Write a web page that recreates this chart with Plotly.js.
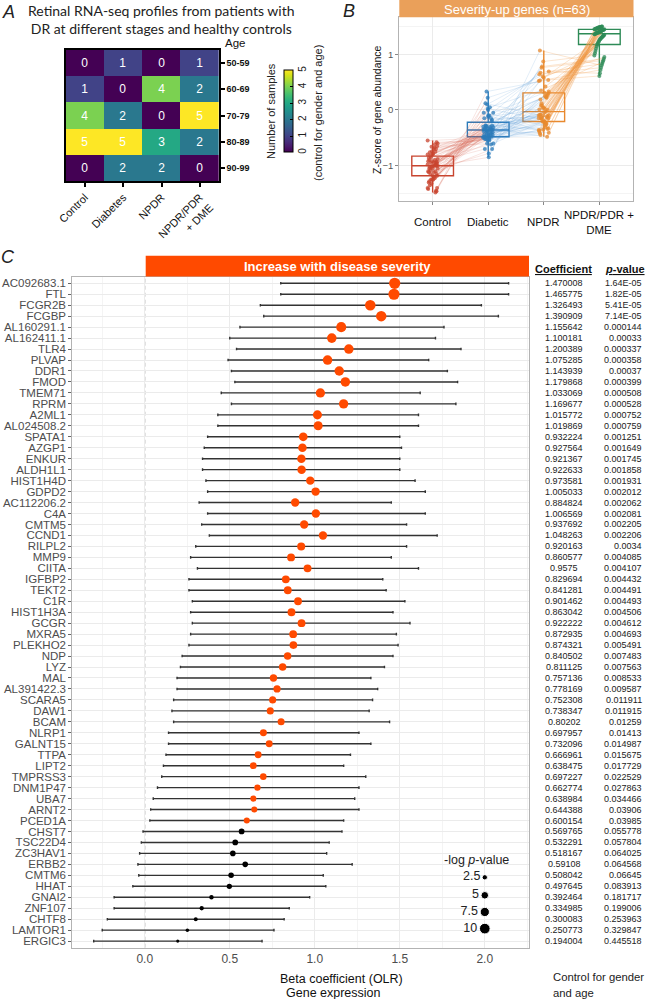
<!DOCTYPE html>
<html><head><meta charset="utf-8">
<script src="https://cdn.plot.ly/plotly-3.0.1.min.js"></script>
<style>html,body{margin:0;padding:0;background:#fff}</style>
</head><body><div id="chart" style="width:646px;height:999px"></div>
<script>
// ---------- Panel A data ----------
const ageGroups = ['50-59','60-69','70-79','80-89','90-99'];
const stages = ['Control','Diabetes','NPDR','NPDR/PDR<br>+ DME'];
const sampleCounts = [
  [0,1,0,1],
  [1,0,4,2],
  [4,2,0,5],
  [5,5,3,2],
  [0,2,2,0]
];
// ---------- Panel B data ----------
const boxGroups = ['Control','Diabetic','NPDR','NPDR/PDR +<br>DME'];
const ctrlZ = [-0.55,-0.60,-0.65,-0.58,-0.70,-0.75,-0.62,-0.68,-0.70,-0.78,-0.80,-0.74,-0.66,-0.85,-0.82,-0.76,-0.90,-0.86,-0.92,-0.80,-0.88,-0.95,-0.93,-0.98,-0.95,-0.90,-1.00,-0.94,-1.00,-1.05,-0.92,-1.02,-0.95,-1.08,-1.03,-1.05,-1.12,-1.10,-0.98,-1.05,-1.18,-1.15,-1.00,-1.10,-1.22,-1.20,-1.12,-1.25,-1.18,-1.25,-1.32,-1.25,-1.15,-1.35,-1.28,-1.30,-1.42,-1.40,-1.00,-1.40,-1.46,-1.45,-1.48];
const diabZ = [-0.50,-0.48,-0.45,-0.55,-0.38,-0.40,-0.52,-0.32,-0.52,-0.44,-0.35,-0.50,-0.60,-0.40,-0.28,-0.48,-0.62,-0.42,-0.36,-0.55,-0.45,-0.10,-0.38,-0.33,-0.30,-0.50,-0.28,-0.70,-0.35,-0.05,-0.48,-0.31,-0.45,-0.18,-0.36,-0.15,-0.33,-0.30,-0.52,-0.78,-0.12,0.02,-0.60,-0.45,-0.28,0.12,-0.48,-0.15,-0.38,-0.30,-0.05,-0.35,-0.70,-0.20,-0.42,-0.35,0.05,-0.10,-0.85,0.00,0.22,0.10,0.33];
const npdrZ = [-0.45,-0.42,-0.39,-0.36,-0.41,-0.33,-0.34,-0.48,-0.25,-0.25,-0.31,-0.22,-0.20,-0.20,-0.35,-0.21,0.08,-0.16,-0.15,-0.08,-0.09,-0.37,-0.10,-0.10,-0.15,0.00,-0.11,0.25,-0.03,-0.28,0.02,-0.04,0.04,-0.10,0.04,-0.14,0.12,0.08,0.19,0.53,0.01,-0.15,0.33,0.30,0.27,-0.13,0.22,0.23,0.42,0.25,0.31,0.58,0.87,0.60,0.78,0.76,0.35,0.67,1.07,0.64,0.52,0.69,0.54];
const dmeZ = [1.50,1.50,1.49,1.49,1.49,1.48,1.48,1.48,1.47,1.47,1.46,1.46,1.46,1.45,1.45,1.45,1.44,1.44,1.43,1.43,1.42,1.42,1.41,1.41,1.40,1.40,1.39,1.39,1.38,1.38,1.38,1.37,1.36,1.36,1.35,1.34,1.33,1.32,1.31,1.30,1.29,1.28,1.27,1.25,1.23,1.21,1.19,1.17,1.14,1.10,1.06,1.02,0.98,0.95,0.92,0.89,0.86,0.83,0.80,0.76,0.72,0.66,0.61];
// ---------- Panel C data ----------
const genes = ['AC092683.1','FTL','FCGR2B','FCGBP','AL160291.1','AL162411.1','TLR4','PLVAP','DDR1','FMOD','TMEM71','RPRM','A2ML1','AL024508.2','SPATA1','AZGP1','ENKUR','ALDH1L1','HIST1H4D','GDPD2','AC112206.2','C4A','CMTM5','CCND1','RILPL2','MMP9','CIITA','IGFBP2','TEKT2','C1R','HIST1H3A','GCGR','MXRA5','PLEKHO2','NDP','LYZ','MAL','AL391422.3','SCARA5','DAW1','BCAM','NLRP1','GALNT15','TTPA','LIPT2','TMPRSS3','DNM1P47','UBA7','ARNT2','PCED1A','CHST7','TSC22D4','ZC3HAV1','ERBB2','CMTM6','HHAT','GNAI2','ZNF107','CHTF8','LAMTOR1','ERGIC3'];
const coefficients = [1.470008,1.465775,1.326493,1.390909,1.155642,1.100181,1.200389,1.075285,1.143939,1.179868,1.033069,1.169677,1.015772,1.019869,0.932224,0.927564,0.921367,0.922633,0.973581,1.005033,0.884824,1.006569,0.937692,1.048263,0.920163,0.860577,0.9575,0.829694,0.841281,0.901462,0.863042,0.922222,0.872935,0.874321,0.840502,0.811125,0.757136,0.778169,0.752308,0.738347,0.80202,0.697957,0.732096,0.666961,0.638475,0.697227,0.662774,0.638984,0.644388,0.600154,0.569765,0.532291,0.518167,0.59108,0.508042,0.497645,0.392464,0.334985,0.300083,0.250773,0.194004];
const pValues = ['1.64E-05','1.82E-05','5.41E-05','7.14E-05','0.000144','0.00033','0.000337','0.000358','0.00037','0.000399','0.000508','0.000528','0.000752','0.000759','0.001251','0.001649','0.001745','0.001858','0.001931','0.002012','0.002062','0.002081','0.002205','0.002206','0.0034','0.004085','0.004107','0.004432','0.004491','0.004493','0.004506','0.004612','0.004693','0.005491','0.007483','0.007563','0.008533','0.009587','0.011911','0.011915','0.01259','0.01413','0.014987','0.015675','0.017729','0.022529','0.027863','0.034466','0.03906','0.03985','0.055778','0.057804','0.064025','0.064568','0.06645','0.083913','0.181717','0.199006','0.253963','0.329847','0.445518'];
const ciLower = [0.80,0.80,0.68,0.70,0.56,0.50,0.54,0.49,0.51,0.53,0.45,0.51,0.43,0.43,0.37,0.35,0.34,0.34,0.36,0.37,0.32,0.37,0.335,0.38,0.30,0.27,0.31,0.26,0.26,0.28,0.27,0.28,0.27,0.26,0.22,0.21,0.19,0.19,0.17,0.16,0.17,0.14,0.14,0.125,0.11,0.10,0.075,0.05,0.035,0.03,-0.01,-0.02,-0.03,-0.04,-0.035,-0.07,-0.18,-0.18,-0.22,-0.25,-0.30];
const ciUpper = [2.14,2.14,1.98,2.08,1.76,1.71,1.86,1.67,1.78,1.84,1.62,1.83,1.61,1.61,1.50,1.51,1.50,1.50,1.59,1.65,1.45,1.65,1.54,1.72,1.54,1.45,1.61,1.40,1.42,1.53,1.46,1.56,1.48,1.49,1.46,1.41,1.33,1.37,1.34,1.32,1.44,1.26,1.33,1.21,1.17,1.30,1.26,1.235,1.26,1.17,1.16,1.085,1.07,1.22,1.05,1.065,0.97,0.85,0.82,0.76,0.69];
const legendValues = [2.5,5,7.5,10];
const xTicksC = [0,0.5,1,1.5,2];

// ---------- helpers ----------
const W=646,H=999;
const px=v=>v/W, py=v=>1-v/H;
const FONT='Liberation Sans, Arial, sans-serif';
const sizeOf=v=>3.38*Math.sqrt(v);
const nlog=p=>-Math.log(p);

const traces=[];
// Panel A heatmap
traces.push({
  type:'heatmap', x:stages, y:ageGroups, z:sampleCounts, xaxis:'x', yaxis:'y',
  colorscale:'Viridis', zmin:0, zmax:5, texttemplate:'%{z}',
  textfont:{color:'#ffffff', size:12, family:FONT}, xgap:0, ygap:0,
  colorbar:{x:px(284), xanchor:'left', y:py(111.5), yanchor:'middle', thickness:9, thicknessmode:'pixels',
    len:82, lenmode:'pixels', outlinewidth:1, outlinecolor:'#000', ticks:'inside', ticklen:3, tickcolor:'#000',
    tickvals:[0,1,2,3,4,5], tickangle:-90, tickfont:{size:10, color:'#222', family:FONT}, xpad:0, ypad:0}
});

// Panel B
const groupColors=['#C8442F','#2B7BBA','#E8892E','#2E8B57'];
const segColors=['rgba(210,85,63,0.22)','rgba(74,144,208,0.22)','rgba(240,150,60,0.35)'];
const groupsZ=[ctrlZ,diabZ,npdrZ,dmeZ];
const jit=(i,g)=>((((i*37+g*11)%19)/18)-0.5)*0.18;
for(let g=0; g<3; g++){
  const xs=[], ys=[];
  for(let i=0;i<ctrlZ.length;i++){
    xs.push(g+jit(i,g), g+1+jit(i,g+1), null);
    ys.push(groupsZ[g][i], groupsZ[g+1][i], null);
  }
  traces.push({type:'scatter', mode:'lines', x:xs, y:ys, xaxis:'x2', yaxis:'y2',
    line:{color:segColors[g], width:0.7}, hoverinfo:'skip', showlegend:false});
}
for(let g=0; g<4; g++){
  traces.push({type:'box', x:groupsZ[g].map(()=>g), y:groupsZ[g], xaxis:'x2', yaxis:'y2',
    boxpoints:false, width:0.75, whiskerwidth:0, fillcolor:'rgba(255,255,255,0)',
    line:{color:groupColors[g], width:1.4}, showlegend:false});
}
for(let g=0; g<4; g++){
  traces.push({type:'scatter', mode:'markers', x:groupsZ[g].map((v,i)=>g+jit(i,g)), y:groupsZ[g],
    xaxis:'x2', yaxis:'y2', marker:{color:groupColors[g], size:4, opacity:0.75}, showlegend:false});
}

// Panel C
const rows=genes.map((g,i)=>i+1);
const pNum=pValues.map(Number);
traces.push({type:'scatter', mode:'markers', x:coefficients, y:rows, xaxis:'x3', yaxis:'y3',
  error_x:{type:'data', symmetric:false, array:ciUpper.map((u,i)=>u-coefficients[i]),
    arrayminus:coefficients.map((c,i)=>c-ciLower[i]), color:'#333333', thickness:1.4, width:1.3},
  marker:{color:pNum.map(p=>p<0.05?'#FF4A00':'#000000'), size:pNum.map(p=>sizeOf(nlog(p))), opacity:1, line:{width:0}},
  showlegend:false});
// size legend (drawn in data space of panel C)
const legRows=[55.18,56.82,58.34,59.86];
traces.push({type:'scatter', mode:'markers+text', x:legendValues.map(()=>2.0), y:legRows, xaxis:'x3', yaxis:'y3',
  text:legendValues.map(String), textposition:'middle left', textfont:{size:12.5, color:'#222', family:FONT},
  marker:{color:'#000', size:legendValues.map(sizeOf), opacity:1}, showlegend:false});

const annotations=[];
const A=(o)=>annotations.push(Object.assign({showarrow:false, xanchor:'center', yanchor:'middle', font:{family:FONT, size:12, color:'#222'}}, o));
// panel letters
A({text:'<i>A</i>', x:px(8), y:py(12), xref:'paper', yref:'paper', font:{family:FONT,size:18,color:'#222'}});
A({text:'<i>B</i>', x:px(349), y:py(11), xref:'paper', yref:'paper', font:{family:FONT,size:18,color:'#222'}});
A({text:'<i>C</i>', x:px(8), y:py(257), xref:'paper', yref:'paper', font:{family:FONT,size:18,color:'#222'}});
// panel A texts
A({text:'Retinal RNA-seq profiles from patients with<br>DR at different stages and healthy controls', x:px(161), y:py(20),
   xref:'paper', yref:'paper', font:{family:'Lato, Carlito, sans-serif', size:14, color:'#222'}});
A({text:'Age', x:px(235), y:py(43), xref:'paper', yref:'paper', font:{family:FONT,size:11.5,color:'#111'}});
A({text:'Number of samples', x:px(271), y:py(111), xref:'paper', yref:'paper', textangle:-90, font:{family:FONT,size:11,color:'#222'}});
A({text:'(control for gender and age)', x:px(318), y:py(113), xref:'paper', yref:'paper', textangle:-90, font:{family:FONT,size:11,color:'#222'}});
// panel B texts
A({text:'Severity-up genes (n=63)', x:px(516.5), y:py(9), xref:'paper', yref:'paper', font:{family:FONT,size:13,color:'#fff'}});
A({text:'Z-score of gene abundance', x:px(377), y:py(110), xref:'paper', yref:'paper', textangle:-90, font:{family:FONT,size:10.5,color:'#111'}});
boxGroups.forEach((g,i)=>A({text:g, x:i, xref:'x2', y:py(222), yref:'paper', font:{family:FONT,size:11.5,color:'#111'}}));
// panel C texts
A({text:'<b>Increase with disease severity</b>', x:px(337), y:py(266), xref:'paper', yref:'paper', font:{family:FONT,size:13,color:'#fff'}});
A({text:'<b><u>Coefficient</u></b>', x:px(563.5), y:py(269), xref:'paper', yref:'paper', font:{family:FONT,size:11,color:'#111'}});
A({text:'<b><u><i>p</i>-value</u></b>', x:px(625), y:py(269), xref:'paper', yref:'paper', font:{family:FONT,size:11,color:'#111'}});
coefficients.forEach((c,i)=>A({text:String(c), x:px(564), xref:'paper', y:rows[i], yref:'y3', font:{family:FONT,size:9,color:'#222'}}));
pValues.forEach((p,i)=>A({text:p, x:px(644), xanchor:'right', xref:'paper', y:rows[i], yref:'y3', font:{family:FONT,size:9,color:'#222'}}));
A({text:'-log <i>p</i>-value', x:px(476.7), y:py(860), xref:'paper', yref:'paper', font:{family:FONT,size:12.5,color:'#222'}});
A({text:'Beta coefficient (OLR)', x:px(341), y:py(979), xref:'paper', yref:'paper', font:{family:FONT,size:12.5,color:'#111'}});
A({text:'Gene expression', x:px(333), y:py(993), xref:'paper', yref:'paper', font:{family:FONT,size:12.5,color:'#111'}});
A({text:'Control for gender', x:px(551), xanchor:'left', y:py(977), xref:'paper', yref:'paper', font:{family:FONT,size:11.3,color:'#222'}});
A({text:'and age', x:px(551), xanchor:'left', y:py(993), xref:'paper', yref:'paper', font:{family:FONT,size:11.3,color:'#222'}});

const shapes=[
  {type:'rect', xref:'paper', yref:'paper', x0:px(399.3), x1:px(633.5), y0:py(17.3), y1:py(0), fillcolor:'#EAA05A', line:{width:0}, layer:'above'},
  {type:'rect', xref:'paper', yref:'paper', x0:px(145.7), x1:px(529), y0:py(276.5), y1:py(255.7), fillcolor:'#FF4A00', line:{width:0}, layer:'above'},
  {type:'line', xref:'x3', yref:'paper', x0:0, x1:0, y0:py(947.7), y1:py(276.7), line:{color:'#777', width:1, dash:'4px,3px'}, layer:'below'}
];

const gridC='#EBEBEB';
const layout={
  width:W, height:H, margin:{l:0,r:0,t:0,b:0}, paper_bgcolor:'#fff', plot_bgcolor:'#fff',
  font:{family:FONT, color:'#222'}, showlegend:false,
  xaxis:{domain:[px(65.7),px(219)], anchor:'y', type:'category', showline:true, mirror:true, linecolor:'#000', linewidth:1.5,
    ticks:'outside', ticklen:4, tickwidth:1.5, tickcolor:'#000', tickangle:-45, tickfont:{size:11, color:'#111'}, showgrid:false, zeroline:false},
  yaxis:{domain:[py(181),py(50)], anchor:'x', type:'category', side:'right', autorange:'reversed', showline:true, mirror:true, linecolor:'#000', linewidth:1.5,
    ticks:'outside', ticklen:4, tickwidth:1.5, tickcolor:'#000', tickvals:ageGroups, ticktext:ageGroups.map(a=>'<b>'+a+'</b>'), tickfont:{size:9, color:'#111'}, showgrid:false, zeroline:false},
  xaxis2:{domain:[px(399.3),px(632.7)], anchor:'y2', range:[-0.6,3.6], tickvals:[0,1,2,3], showticklabels:false, ticks:'outside', ticklen:3, tickcolor:'#888',
    showgrid:true, gridcolor:gridC, zeroline:false, showline:true, mirror:true, linecolor:'#B3B3B3'},
  yaxis2:{domain:[py(201),py(17.3)], anchor:'x2', range:[-1.634,1.664], tickvals:[-1,0,1], ticks:'outside', ticklen:3, tickcolor:'#888',
    tickfont:{size:9.5, color:'#555'}, showgrid:true, gridcolor:gridC, minor:{tickvals:[-1.5,-0.5,0.5,1.5], showgrid:true, gridcolor:'#F4F4F4'},
    zeroline:false, showline:true, mirror:true, linecolor:'#B3B3B3'},
  xaxis3:{domain:[px(72.3),px(529)], anchor:'y3', range:[-0.426,2.26], tickvals:xTicksC, ticktext:xTicksC.map(v=>v.toFixed(1)),
    tickfont:{size:12, color:'#4D4D4D'}, ticks:'', showgrid:true, gridcolor:gridC, minor:{tickvals:[-0.25,0.25,0.75,1.25,1.75,2.25], showgrid:true, gridcolor:'#F4F4F4'},
    zeroline:false, showline:true, mirror:true, linecolor:'#B3B3B3'},
  yaxis3:{domain:[py(947.7),py(276.7)], anchor:'x3', range:[61.6,0.4], tickvals:rows, ticktext:genes, tickfont:{size:11.5, color:'#4D4D4D'},
    ticks:'outside', ticklen:3, tickcolor:'#666', showgrid:true, gridcolor:gridC, zeroline:false, showline:true, mirror:true, linecolor:'#B3B3B3'},
  annotations, shapes
};
Plotly.newPlot('chart', traces, layout, {displayModeBar:false});
</script></body></html>
